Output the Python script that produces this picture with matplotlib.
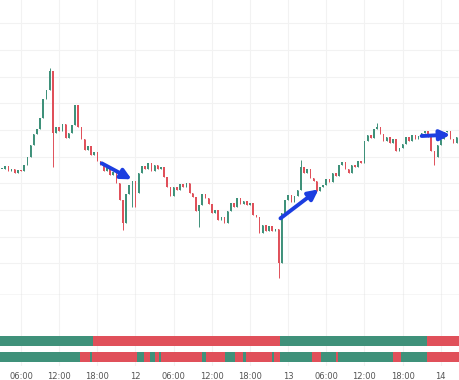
"""Candlestick chart with trend arrows and two signal strips below."""

import matplotlib
matplotlib.use("Agg")
import matplotlib.pyplot as plt
import numpy as np

# --- data --------------------------------------------------------------------
# half-hour candles, closes in arbitrary price units
closes = [
    394, 402, 388, 392, 380, 390, 386, 404, 428, 465,
    498, 512, 546, 604, 630, 686, 500, 520, 508, 528,
    486, 500, 526, 584, 520, 482, 450, 462, 436, 444,
    418, 404, 386, 396, 374, 384, 352, 300, 230, 318,
    344, 358, 322, 380, 402, 392, 410, 386, 404, 394,
    398, 368, 340, 312, 338, 330, 348, 340, 350, 320,
    310, 268, 284, 318, 306, 288, 262, 270, 240, 250,
    232, 266, 292, 280, 306, 288, 298, 284, 290, 256,
    248, 200, 224, 206, 222, 208, 214, 110, 262, 300,
    314, 294, 312, 330, 398, 380, 392, 366, 358, 326,
    340, 344, 362, 354, 380, 372, 404, 414, 392, 380,
    404, 398, 418, 410, 476, 494, 486, 512, 520, 498,
    478, 490, 472, 484, 448, 456, 468, 490, 476, 496,
    482, 492, 500, 508, 488, 448, 430, 466, 482, 504,
    508, 484, 470, 490, 500,
]
t0 = 3.0          # hour of first candle (day 11 00:00 = hour 0)
bar_hours = 0.5

# long wicks: candle index -> extreme price
wick_lows = {16: 400, 38: 210, 41: 280, 42: 280, 62: 220, 87: 65, 136: 405}
wick_highs = {15: 695, 94: 420, 118: 530}

# trend arrows: (start hour, start price, end hour, end price)
arrows = [
    (18.7, 410, 23.4, 362),
    (46.8, 245, 52.8, 332),
    (69.0, 492, 73.5, 496),
]

# signal strips: segment boundaries in hours, colours alternate starting green
strip1_edges = [2.7, 17.3, 46.7, 69.8, 75.0]
strip2_edges = [2.7, 15.3, 16.9, 17.2, 24.2, 25.3, 26.3, 27.1, 27.7, 28.0,
                34.5, 35.1, 38.1, 39.7, 40.9, 41.4, 45.5, 45.8, 46.7, 51.8,
                53.2, 55.5, 55.9, 64.5, 65.8, 69.8, 75.0]

tick_hours = [6, 12, 18, 24, 30, 36, 42, 48, 54, 60, 66, 72]
tick_labels = ["06:00", "12:00", "18:00", "12", "06:00", "12:00",
               "18:00", "13", "06:00", "12:00", "18:00", "14"]

GREEN = "#3f917a"
RED = "#e0505a"
BLUE = "#1c3ee0"
GRID = "#f2f2f2"
XLIM = (2.70, 75.03)

# --- figure -------------------------------------------------------------------
fig = plt.figure(figsize=(4.6, 3.8), dpi=100)
ax = fig.add_axes([0, 85 / 380, 1, 295 / 380])
axs = fig.add_axes([0, 14 / 380, 1, 71 / 380])

c = np.array(closes, dtype=float)
o = np.concatenate([[c[0]], c[:-1]])
t = t0 + bar_hours * np.arange(len(c))
up = c >= o
cols = np.where(up, GREEN, RED)

lo = np.minimum(o, c)
hi = np.maximum(o, c)
for i, v in wick_lows.items():
    lo[i] = v
for i, v in wick_highs.items():
    hi[i] = v
ax.vlines(t, lo, hi, colors=cols, lw=0.7, zorder=2)
h = np.where(np.abs(c - o) < 2, 2, c - o)
ax.bar(t, h, bottom=o, width=0.24, color=cols, lw=0, zorder=3)

for x0, y0, x1, y1 in arrows:
    ax.annotate("", xy=(x1, y1), xytext=(x0, y0),
                arrowprops=dict(arrowstyle="-|>", color=BLUE, lw=2.8,
                                mutation_scale=15, shrinkA=0, shrinkB=0),
                zorder=5)

ax.set_xlim(*XLIM)
ax.set_ylim(15, 900)
ax.set_yticks(np.arange(110, 900, 80))
ax.set_xticks(tick_hours)
ax.grid(color=GRID, lw=0.8)
ax.tick_params(left=False, bottom=False, labelleft=False, labelbottom=False)
for s in ("top", "left", "right"):
    ax.spines[s].set_visible(False)
ax.spines["bottom"].set_color("#d4d4d4")
ax.spines["bottom"].set_linewidth(1.0)

# strips
for edges, (yb, hgt) in ((strip1_edges, (20, 10)), (strip2_edges, (4, 10))):
    segs = [(edges[k], edges[k + 1] - edges[k]) for k in range(len(edges) - 1)]
    fc = [GREEN if k % 2 == 0 else RED for k in range(len(segs))]
    axs.broken_barh(segs, (yb, hgt), facecolors=fc, lw=0, zorder=3)

axs.set_xlim(*XLIM)
axs.set_ylim(0, 71)
axs.set_yticks([])
axs.set_xticks(tick_hours)
axs.set_xticklabels(tick_labels, fontsize=6, color="#555555")
axs.grid(axis="x", color=GRID, lw=0.8)
axs.tick_params(length=0, pad=4)
for s in axs.spines.values():
    s.set_visible(False)

fig.savefig("out.png", dpi=100)
